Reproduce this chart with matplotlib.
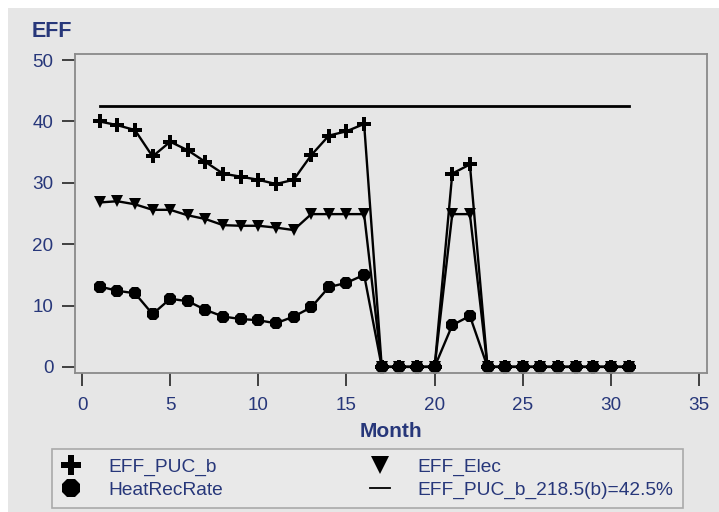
import matplotlib
matplotlib.use("Agg")
import matplotlib.pyplot as plt
from matplotlib.lines import Line2D
from matplotlib.patches import Rectangle

plt.rcParams['font.family'] = ['Liberation Sans', 'DejaVu Sans']

# data
months = list(range(1, 32))
eff_puc_b = [40.0, 39.4, 38.6, 34.3, 36.7, 35.3, 33.4, 31.5, 31.0, 30.5, 29.8, 30.5, 34.5, 37.7, 38.4, 39.6,
             0, 0, 0, 0, 31.5, 33.0, 0, 0, 0, 0, 0, 0, 0, 0, 0]
eff_elec = [26.8, 27.0, 26.5, 25.6, 25.6, 24.7, 24.1, 23.1, 23.0, 23.0, 22.7, 22.3, 24.9, 24.9, 24.9, 24.9,
            0, 0, 0, 0, 24.9, 24.9, 0, 0, 0, 0, 0, 0, 0, 0, 0]
heat_rec = [13.1, 12.4, 12.0, 8.6, 11.1, 10.7, 9.3, 8.2, 7.8, 7.6, 7.1, 8.2, 9.7, 13.0, 13.7, 15.0,
            0, 0, 0, 0, 6.8, 8.3, 0, 0, 0, 0, 0, 0, 0, 0, 0]
ref_x = [1, 31]
ref_y = [42.5, 42.5]
ref_label = 'EFF_PUC_b_218.5(b)=42.5%'

bg = '#e6e6e6'
navy = '#27377a'
spine_col = '#8a8a8a'

fig = plt.figure(figsize=(7.19, 5.12), dpi=100)
fig.patch.set_facecolor('white')
fig.patches.append(Rectangle((8 / 719, 0), 1, 1 - 8 / 512, transform=fig.transFigure,
                             facecolor=bg, edgecolor='none', zorder=-10))

ax = fig.add_axes([75 / 719, 1 - 373 / 512, (707 - 75) / 719, (373 - 54) / 512])
ax.set_facecolor(bg)

ax.plot(ref_x, ref_y, color='black', lw=2)
ax.plot(months, eff_puc_b, color='black', lw=1.7, marker='P', markersize=10, markeredgewidth=0)
ax.plot(months, eff_elec, color='black', lw=1.7, marker='v', markersize=9, markeredgewidth=0)
ax.plot(months, heat_rec, color='black', lw=1.7, marker='8', markersize=9.5, markeredgewidth=0)

ax.set_xlim(-0.4, 35.45)
ax.set_ylim(-1, 51)
ax.set_xticks(range(0, 36, 5))
ax.set_yticks(range(0, 51, 10))
ax.tick_params(axis='both', direction='out', length=9.5, width=1.3, color='#333333',
               labelcolor=navy, labelsize=13.6)
ax.tick_params(axis='x', pad=7.5)
ax.tick_params(axis='y', pad=6)
for s in ax.spines.values():
    s.set_color(spine_col)
    s.set_linewidth(1.3)

ax.set_xlabel('Month', color=navy, fontsize=15, fontweight='bold', labelpad=6)
fig.text(32 / 719, 1 - 37 / 512, 'EFF', color=navy, fontsize=15.5, fontweight='bold', va='baseline')

handles = [
    Line2D([], [], color='black', marker='P', markersize=14, markeredgewidth=0, linestyle='none'),
    Line2D([], [], color='black', marker='8', markersize=14, markeredgewidth=0, linestyle='none'),
    Line2D([], [], color='black', marker='v', markersize=13, markeredgewidth=0, linestyle='none'),
    Line2D([], [], color='black', lw=1.3),
]
labels = ['EFF_PUC_b', 'HeatRecRate', 'EFF_Elec', ref_label]
leg = fig.legend(handles, labels, ncol=2, loc='upper left',
                 bbox_to_anchor=(52 / 719, 1 - 449 / 512), borderaxespad=0,
                 fontsize=13.8, handlelength=1.0, handletextpad=1.45, columnspacing=7.7,
                 labelspacing=0.3, frameon=True, fancybox=False, borderpad=0.48)
leg.get_frame().set_facecolor('#ebebeb')
leg.get_frame().set_edgecolor('#9a9a9a')
leg.get_frame().set_linewidth(1.2)
for t in leg.get_texts():
    t.set_color(navy)

fig.savefig('out.png', dpi=100, facecolor=fig.get_facecolor())
